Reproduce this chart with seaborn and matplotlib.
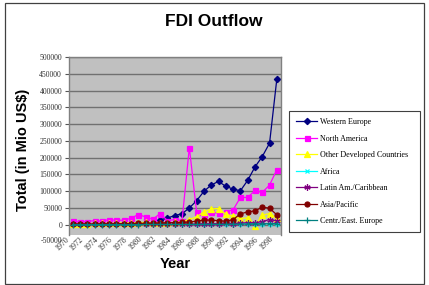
import numpy as np
import pandas as pd
import seaborn as sns
import matplotlib.pyplot as plt
from matplotlib.patches import Rectangle
from matplotlib.transforms import ScaledTranslation

nan = np.nan
years = list(range(1970, 1999))
tick_years = years[::2]
y_ticks = list(range(-50000, 500001, 50000))

western_europe = [nan] * 12 + [14000, 20000, 26800, 32700, 49600, 71400, 99200, 118000, 129000,
                               114000, 106000, 101000, 132000, 172000, 203000, 243000, 435000]
north_america = [10000, 8000, 9000, 12000, 10000, 15000, 13000, 13000, 19000, 30000,
                 23000, 16000, 33000, 12000, 15000, 12000, 230000, 37000, 23000, 37000,
                 34000, 38000, 44000, 81000, 81000, 102000, 96000, 118000, 164000]
other_developed = [2000, 2500, 3000, 3500, 3500, 4000, 4500, 5000, 5500, 6000,
                   6500, 6000, 5000, 5500, 6500, 8000, 15000, 23000, 38000, 47000,
                   48000, 31000, 25000, 18000, 20000, -3000, 28000, 33000, 20000]
africa = [800, 700, 900, 1000, 1100, 1200, 1300, 1000, 900, 1200,
          1500, 1200, 1000, 900, 1100, 1300, 1000, 1400, 1600, 1800,
          1500, 1200, 1400, 1800, 2000, 2500, 1800, 3000, 2200]
latin_am = [400, 500, 600, 700, 800, 900, 1000, 1200, 1300, 1500,
            1800, 2000, 1500, 1200, 1400, 1300, 1500, 1800, 2200, 2600,
            2800, 3500, 3300, 4200, 6000, 5500, 9000, 15000, 11000]
asia_pacific = [1500, 1700, 1800, 2000, 2300, 2500, 2600, 2800, 3000, 3500,
                4000, 4500, 5000, 5500, 6000, 6500, 8000, 10000, 14000, 13000,
                12000, 10000, 15000, 32000, 38000, 41000, 52000, 49000, 29000]
centr_east = [100, 100, 150, 150, 200, 200, 250, 250, 300, 300,
              350, 350, 400, 400, 450, 450, 500, 500, 600, 700,
              800, 900, 1200, 1500, 1800, 2500, 2200, 3000, 2800]

series = [
    ("Western Europe", western_europe, "#000080", "D", 3.2),
    ("North America", north_america, "#FF00FF", "s", 3.6),
    ("Other Developed Countries", other_developed, "#FFFF00", "^", 3.8),
    ("Africa", africa, "#00FFFF", "x", 3.5),
    ("Latin Am./Caribbean", latin_am, "#800080", (6, 2, 0), 4.5),
    ("Asia/Pacific", asia_pacific, "#800000", "o", 3.6),
    ("Centr./East. Europe", centr_east, "#008080", "+", 4.5),
]

fig = plt.figure(figsize=(4.29, 2.85), dpi=100)
ax = fig.add_axes([69 / 429, 1 - 235 / 285, (280.5 - 69) / 429, (235 - 57) / 285])
ax.set_facecolor("#C0C0C0")
ax.set_axisbelow(True)
ax.yaxis.grid(True, color="#707070", lw=1.0)

for name, vals, col, mk, ms in series:
    df = pd.DataFrame({"Year": years, "Value": vals})
    sns.lineplot(data=df, x="Year", y="Value", ax=ax, color=col, lw=0.9,
                 marker=mk, markersize=ms, markeredgecolor=col, markerfacecolor=col,
                 markeredgewidth=0.9, label=name)

# the year labels eat the lowest strip of the plot, so -50000 falls just below it
ax.set_xlim(1969.5, 1998.5)
ax.set_ylim(-31000, 500000)
ax.set_yticks(y_ticks[1:])
ax.set_yticklabels([str(v) for v in y_ticks[1:]],
                   family="Liberation Serif", fontsize=5.6, color="#333333")
ax.text(-0.03, y_ticks[0], str(y_ticks[0]), transform=ax.get_yaxis_transform(),
        ha="right", va="center", family="Liberation Serif", fontsize=5.6,
        color="#333333", clip_on=False)

ax.set_xticks(tick_years)
ax.set_xticklabels([str(y) for y in tick_years], rotation=45, ha="right", va="center",
                   rotation_mode="anchor", family="Liberation Serif", fontsize=5.7,
                   color="#333333")
ax.tick_params(axis="y", length=3, width=0.8, color="#555555", pad=2)
ax.tick_params(axis="x", length=0, pad=0)
shift = ScaledTranslation(-0.05, -0.03, fig.dpi_scale_trans)
for lab in ax.get_xticklabels():
    lab.set_transform(lab.get_transform() + shift)
ax.set_xlabel("")
ax.set_ylabel("")
for s in ax.spines.values():
    s.set_color("#808080")
    s.set_linewidth(1.0)
ax.spines["bottom"].set_visible(False)

leg = ax.legend(loc="upper left", bbox_to_anchor=(289 / 429, 1 - 232 / 285, 131 / 429, 121 / 285),
                bbox_transform=fig.transFigure, mode="expand",
                prop={"family": "Liberation Serif", "size": 5.8},
                frameon=True, fancybox=False, edgecolor="#404040", framealpha=1,
                handlelength=2.6, labelspacing=1.05, borderpad=0.9, handletextpad=0.3,
                borderaxespad=0)
leg.get_frame().set_linewidth(0.8)

fig.text(214 / 429, 1 - 22 / 285, "FDI Outflow", ha="center", va="center",
         family="Liberation Sans", fontweight="bold", fontsize=12.5)
fig.text(175 / 429, 1 - 264 / 285, "Year", ha="center", va="center",
         family="Liberation Sans", fontweight="bold", fontsize=10.5)
fig.text(23 / 429, 1 - 150 / 285, "Total (in Mio US$)", ha="center", va="center",
         rotation=90, family="Liberation Sans", fontweight="bold", fontsize=10.5)

fig.patches.append(Rectangle((4.5 / 429, 1.5 / 285), 419 / 429, 281 / 285,
                             transform=fig.transFigure, fill=False,
                             edgecolor="#404040", lw=0.9))

fig.savefig("out.png", dpi=100)
